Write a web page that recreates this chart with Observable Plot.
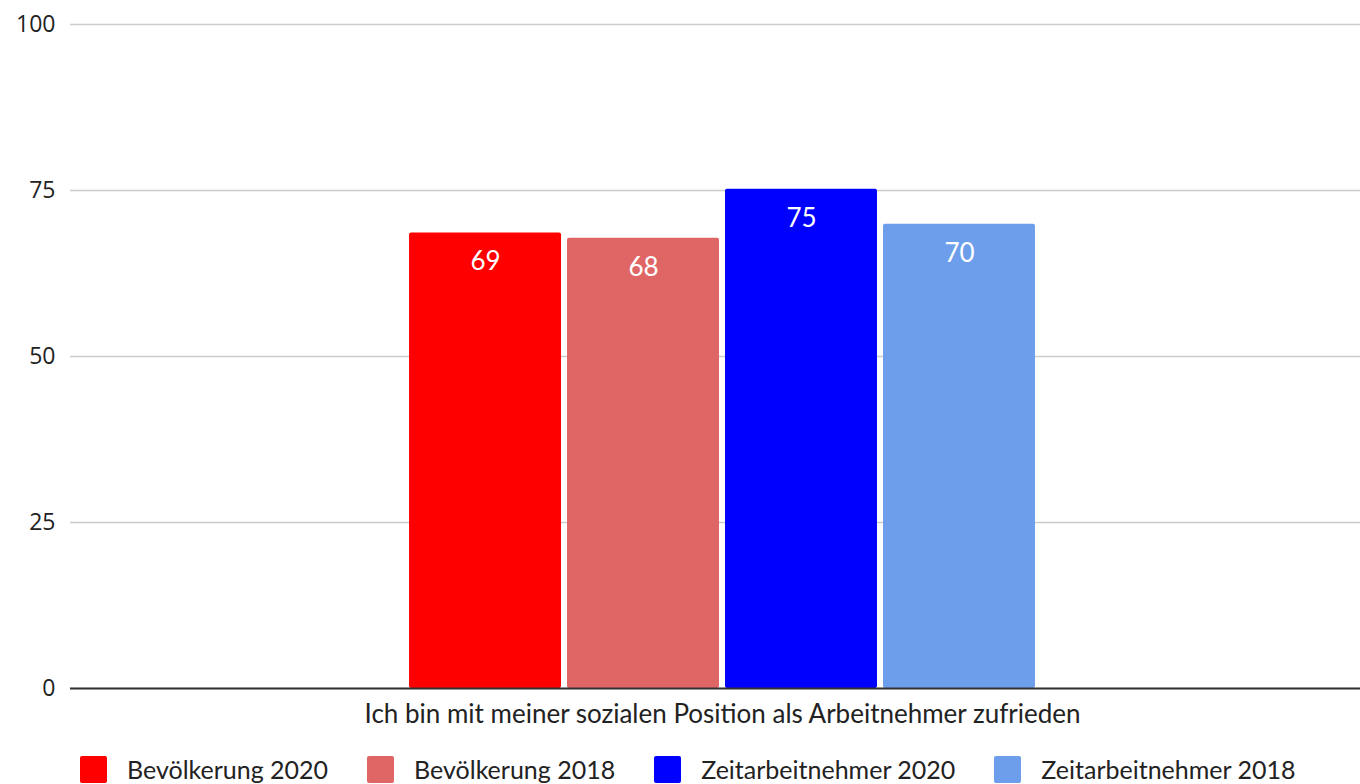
<!DOCTYPE html>
<html><head><meta charset="utf-8">
<script src="https://cdn.jsdelivr.net/npm/d3@7"></script>
<script src="https://cdn.jsdelivr.net/npm/@observablehq/plot@0.6"></script>
<style>
html,body{margin:0;padding:0;background:#fff;overflow:hidden;width:1360px;height:784px}
#chart{width:1374px}
#legend{display:flex;align-items:center;margin-top:11px;padding-left:80px;font-family:Lato,sans-serif;font-size:25px;line-height:25px;color:#222;white-space:nowrap}
.item{display:flex;align-items:center;margin-right:39px}
.sw{width:27px;height:27px;border-radius:2px;margin-right:20px}
</style></head><body><div id="chart"></div><div id="legend"></div>
<script>
const category = "Ich bin mit meiner sozialen Position als Arbeitnehmer zufrieden";
const series = ["Bevölkerung 2020", "Bevölkerung 2018", "Zeitarbeitnehmer 2020", "Zeitarbeitnehmer 2018"];
const values = [68.6, 67.8, 75.2, 69.9];
const labels = ["69", "68", "75", "70"];
const colors = ["#ff0000", "#e06666", "#0000ff", "#6d9eeb"];
const yTicks = [0, 25, 50, 75, 100];

const data = series.map((s, i) => ({category, series: s, value: values[i], label: labels[i]}));

const chart = Plot.plot({
  width: 1374, height: 745,
  marginLeft: 70, marginRight: 0, marginTop: 24, marginBottom: 57,
  style: {fontFamily: "Open Sans", fontSize: "23px", color: "#222", maxWidth: "none", overflow: "visible"},
  fx: {domain: [category], padding: 0, label: null, axis: null},
  x: {domain: series, paddingInner: 0.038, paddingOuter: 2.146, round: false, axis: null},
  y: {domain: [0, 100], label: null, axis: null},
  color: {domain: series, range: colors},
  marks: [
    Plot.gridY(yTicks, {stroke: "#cccccc", strokeOpacity: 1, strokeWidth: 1.5}),
    Plot.axisY(yTicks, {tickSize: 0, tickPadding: 15, fontSize: 23, fontFamily: "Open Sans", label: null}),
    Plot.barY(data, {fx: "category", x: "series", y: "value", fill: "series", rx: 2}),
    Plot.ruleY([0], {stroke: "#333333", strokeWidth: 2}),
    Plot.text(data, {fx: "category", x: "series", y: "value", text: "label", fill: "white", dy: 29, fontSize: 26, fontFamily: "Lato"}),
    Plot.axisFx({anchor: "bottom", tickSize: 0, tickPadding: 16, fontSize: 26, fontFamily: "Lato", label: null})
  ]
});
document.getElementById("chart").appendChild(chart);

const legend = document.getElementById("legend");
series.forEach((s, i) => {
  const item = document.createElement("div");
  item.className = "item";
  const sw = document.createElement("div");
  sw.className = "sw";
  sw.style.background = colors[i];
  const t = document.createElement("span");
  t.textContent = s;
  item.appendChild(sw); item.appendChild(t);
  legend.appendChild(item);
});
</script></body></html>
